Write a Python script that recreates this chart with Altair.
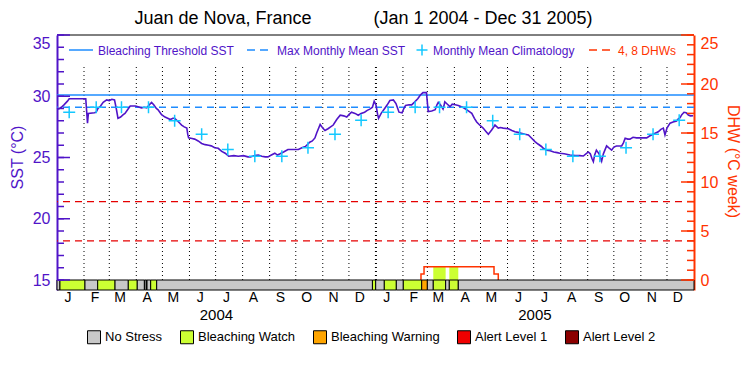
import altair as alt
import pandas as pd

FONT = "Liberation Sans"
PURPLE = "#5014c8"
BLUE = "#1e8cff"
CYAN = "#14c8ff"
ORANGE = "#ff3300"
RED = "#e60000"

W, H, BAR_PX = 637, 255, 10

# ---------------- data ----------------
MONTH_LETTERS = ["J", "F", "M", "A", "M", "J", "J", "A", "S", "O", "N", "D"]
DAYS_2004 = [31, 29, 31, 30, 31, 30, 31, 31, 30, 31, 30, 31]
DAYS_2005 = [31, 28, 31, 30, 31, 30, 31, 31, 30, 31, 30, 31]
YEARS = ["2004", "2005"]

SST_DAY = [0, 3, 5, 8, 12, 14, 33, 34, 35, 36, 43, 45, 47, 50, 53, 57, 60, 63, 66, 68,
           70, 73, 76, 78, 81, 84, 90, 93, 97, 100, 103, 106, 108.5, 111, 114, 116, 118, 120,
           124, 127, 130, 133, 135, 138, 141, 143, 146, 149, 150, 151, 155, 158, 162, 166,
           170, 174, 177, 181, 185, 189, 193, 197, 203, 208, 214, 219, 222, 226, 231, 235,
           239, 242, 246, 250, 253, 256, 260, 265, 270, 277, 281, 285, 288, 290, 293, 296,
           298, 302, 305, 307.5, 311, 314, 317, 321, 325, 329, 332.5, 335, 338, 342, 345.7,
           349, 353, 356, 359, 362, 364, 366, 368, 369, 372, 376, 379, 382, 386, 389, 391,
           392.5, 396, 398, 400, 404, 407, 410, 414, 417, 420, 424, 425, 426, 430, 434, 436,
           437.5, 440, 443, 444, 445, 448, 451, 453.5, 457, 460.5, 464, 468, 472, 476, 479,
           481.6, 485, 489, 492, 495, 498.8, 502.6, 506.4, 509, 512, 518, 522, 525.6, 529,
           533, 537, 541, 545, 548.5, 552, 556, 558, 562, 566, 570, 574, 577, 582, 588.7,
           595, 600, 604, 607, 609.7, 612, 614, 615.5, 617, 619, 622, 625, 627, 630.7, 633,
           636.5, 639, 642, 648, 650, 652, 655, 657.5, 661, 665, 670, 676.7, 680, 684, 687,
           690, 693, 695.8, 697.7, 700, 703.5, 707, 711, 713, 715, 717, 719.5, 722, 724.5,
           727, 730]
SST_VAL = [28.95, 29.0, 29.1, 29.3, 29.6, 29.8, 29.8, 28.8, 27.8, 28.6, 28.65, 28.7, 29.0,
           29.2, 29.5, 29.7, 29.65, 29.75, 29.7, 29.0,
           28.2, 28.3, 28.5, 28.6, 28.9, 29.2, 29.2, 29.15, 29.05, 29.1, 29.05, 29.3, 29.5,
           29.3, 29.0, 28.9, 28.7, 28.5,
           28.3, 28.2, 28.1, 28.2, 28.2, 28.0, 27.8, 27.65, 27.5, 27.4, 26.9, 26.6, 26.55,
           26.5, 26.35, 26.15,
           26.05, 26.0, 25.95, 25.8, 25.75, 25.5, 25.35, 25.1, 25.15, 25.1, 25.15, 25.05,
           25.05, 25.15, 25.2, 25.1,
           25.05, 25.05, 25.2, 25.35, 25.2, 25.3, 25.45, 25.65, 25.65, 25.65, 25.8, 25.9,
           26.1, 26.25, 26.35, 26.6,
           27.0, 27.7, 27.4, 27.2, 27.35, 27.5, 27.65, 28.1, 28.45, 28.4, 28.3, 28.5, 28.7,
           28.6, 28.45,
           28.6, 28.7, 28.85, 28.95, 29.1, 29.6, 29.3, 28.5, 28.2, 28.6, 29.0, 29.3, 29.65,
           29.7, 29.4, 29.0,
           28.7, 28.65, 29.0, 29.25, 29.3, 29.3, 29.5, 29.8, 30.1, 30.3, 30.3, 29.5, 28.75,
           28.8, 28.9, 29.3,
           29.5, 29.3, 28.95, 29.2, 29.55, 29.35, 29.15, 29.35, 29.3, 29.25, 29.15, 29.0,
           28.8, 28.6, 28.2,
           27.9, 27.65, 27.4, 27.15, 26.9, 27.25, 27.65, 27.4, 27.45, 27.4, 27.35, 27.2, 27.1,
           27.05,
           26.97, 26.9, 26.84, 26.55, 26.3, 26.1, 25.9, 25.75, 25.6, 25.55, 25.45, 25.4,
           25.35, 25.3, 25.2,
           25.15, 25.15, 25.12, 25.3, 25.45, 25.3, 24.9, 24.66, 25.2, 25.6, 25.3, 24.7, 25.3,
           25.95, 25.8,
           25.6, 25.85, 25.94, 25.94, 26.2, 26.57, 26.5, 26.5, 26.65, 26.6, 26.6, 26.6, 26.75,
           26.9, 27.0,
           27.1, 27.3, 27.4, 26.84, 27.4, 27.8, 27.9, 27.98, 28.15, 28.25, 28.5, 28.69, 28.65,
           28.47,
           28.4, 28.41]

CLIM = [28.7, 29.1, 29.1, 29.1, 28.0, 26.9, 25.65, 25.1, 25.1, 25.8, 26.9, 28.05]
MMM = 29.1
THRESHOLD = 30.1
DHW_LINES = [4, 8]

DHW_DAY = [417.6, 417.7, 421.2, 501.5, 506.4]
DHW_VAL = [0, 0.6, 1.36, 0.6, 0]
FILL_START = [431.8, 450.2]
FILL_END = [446.0, 460.5]
FILL_TOP = [1.36, 1.36]

STRESS_NAMES = ["No Stress", "Bleaching Watch", "Bleaching Warning", "Alert Level 1", "Alert Level 2"]
STRESS_COLORS = ["#c8c8c8", "#ccff33", "#ffa500", "#f00000", "#8c0000"]
STRESS_START = [0, 3.4, 32.1, 46.7, 66.6, 81.8, 92.1, 100.3, 100.9, 102.9, 103.3, 107.5, 114.4,
                362, 365.7, 375.6, 389.4, 397.4, 418.5, 425, 431.8, 446, 450.2, 460.5]
STRESS_END = [3.4, 32.1, 46.7, 66.6, 81.8, 92.1, 100.3, 100.9, 102.9, 103.3, 107.5, 114.4, 362,
              365.7, 375.6, 389.4, 397.4, 418.5, 425, 431.8, 446, 450.2, 460.5, 731]
STRESS_CAT = ["No Stress", "Bleaching Watch", "No Stress", "Bleaching Watch", "No Stress",
              "Bleaching Watch", "No Stress", "Bleaching Watch", "No Stress", "Bleaching Watch",
              "No Stress", "Bleaching Watch", "No Stress", "Bleaching Watch", "No Stress",
              "Bleaching Watch", "No Stress", "Bleaching Watch", "Bleaching Warning",
              "No Stress", "Bleaching Watch", "No Stress", "Bleaching Watch", "No Stress"]

# ---------------- derived ----------------
MONTH_LEN = DAYS_2004 + DAYS_2005
STARTS = [sum(MONTH_LEN[:i]) for i in range(len(MONTH_LEN))]
TOTAL = sum(MONTH_LEN)
YEAR_START = sum(DAYS_2004)
SST_MIN = 15

SST_LO = SST_MIN - 20 * BAR_PX / (H - BAR_PX)
DHW_LO = -25 * BAR_PX / (H - BAR_PX)

XS = alt.Scale(domain=[0, TOTAL], nice=False, zero=False)
YS = alt.Scale(domain=[SST_LO, 35], nice=False, zero=False)
YD = alt.Scale(domain=[DHW_LO, 25], nice=False, zero=False)

CROSS = "M-1,0L1,0M0,-1L0,1"
one = pd.DataFrame({"k": [0]})


def xq(field):
    return alt.X(field, scale=XS, axis=None)


def ys(field):
    return alt.Y(field, scale=YS, axis=None)


def yd(field):
    return alt.Y(field, scale=YD, axis=None)


def text(s, x, y, color="black", size=12, align="left"):
    return alt.Chart(one).mark_text(
        text=s, align=align, baseline="middle", font=FONT, fontSize=size, color=color
    ).encode(x=alt.value(x), y=alt.value(y))


sst_df = pd.DataFrame({"day": SST_DAY, "sst": SST_VAL})
clim_df = pd.DataFrame({"day": [s + 14 for s in STARTS], "c": [CLIM[i % 12] for i in range(24)]})
month_df = pd.DataFrame({"mid": [s + 12.5 for s in STARTS],
                         "m": [MONTH_LETTERS[i % 12] for i in range(24)]})
year_df = pd.DataFrame({"mid": [YEAR_START / 2, YEAR_START + (TOTAL - YEAR_START) / 2], "y": YEARS})
inner = [s for s in STARTS[1:] if s != YEAR_START]
bound_df = pd.DataFrame({"d": inner, "base": [SST_MIN] * len(inner)})
ybound_df = pd.DataFrame({"d": [YEAR_START], "base": [SST_MIN]})
bar_df = pd.DataFrame({"start": STRESS_START, "end": STRESS_END, "cat": STRESS_CAT,
                       "base": [SST_MIN] * len(STRESS_START)})
dhw_df = pd.DataFrame({"day": DHW_DAY, "dhw": DHW_VAL})
fill_df = pd.DataFrame({"start": FILL_START, "end": FILL_END, "top": FILL_TOP,
                        "zero": [0] * len(FILL_START)})

left_axis = alt.Axis(orient="left", values=[15, 20, 25, 30, 35], ticks=False, grid=False,
                     labelPadding=7, labelFont=FONT, labelFontSize=16, labelColor=PURPLE,
                     labelFlush=True, domainColor=PURPLE, domainWidth=2, title="SST (°C)",
                     titleFont=FONT, titleFontSize=16, titleFontWeight="normal",
                     titleColor=PURPLE, titleAngle=270, titleX=-40, titleY=122,
                     titleAlign="center", titleBaseline="middle")

right_axis = alt.Axis(orient="right", values=[0, 5, 10, 15, 20, 25], ticks=False, grid=False,
                      labelPadding=6, labelFont=FONT, labelFontSize=16, labelColor=ORANGE,
                      labelFlush=True, domainColor=ORANGE, domainWidth=2,
                      title="DHW (°C week)", titleFont=FONT, titleFontSize=16,
                      titleFontWeight="normal", titleColor=ORANGE, titleAngle=90,
                      titleX=38, titleY=126, titleAlign="center", titleBaseline="middle")

dots = alt.Chart(bound_df).mark_rule(color="black", strokeDash=[1, 3], strokeWidth=1).encode(
    x=xq("d:Q"), y=ys("base:Q"), y2=alt.value(30))
ydots = alt.Chart(ybound_df).mark_rule(color="black", strokeDash=[1, 3], strokeWidth=2).encode(
    x=xq("d:Q"), y=ys("base:Q"), y2=alt.value(30))

thr = alt.Chart(pd.DataFrame({"v": [THRESHOLD]})).mark_rule(color=BLUE, strokeWidth=1.5).encode(
    y=ys("v:Q"))
mmm = alt.Chart(pd.DataFrame({"v": [MMM]})).mark_rule(
    color=BLUE, strokeWidth=1.5, strokeDash=[7, 5]).encode(y=ys("v:Q"))

sst_line = alt.Chart(sst_df).mark_line(color=PURPLE, strokeWidth=1.6).encode(
    x=xq("day:Q"), y=alt.Y("sst:Q", scale=YS, axis=left_axis))

clim = alt.Chart(clim_df).mark_point(shape=CROSS, size=144, filled=False, color=CYAN,
                                     strokeWidth=1.5, opacity=1).encode(
    x=xq("day:Q"), y=ys("c:Q"))

bar = alt.Chart(bar_df).mark_rect(stroke="black", strokeWidth=1).encode(
    x=xq("start:Q"), x2="end:Q",
    y=ys("base:Q"), y2=alt.value(H),
    color=alt.Color("cat:N", scale=alt.Scale(domain=STRESS_NAMES, range=STRESS_COLORS),
                    legend=alt.Legend(orient="none", legendX=30, legendY=295,
                                      direction="horizontal", title=None, symbolType="square",
                                      symbolSize=169, symbolStrokeColor="black",
                                      symbolStrokeWidth=1, symbolOpacity=1, labelFont=FONT,
                                      labelFontSize=13, labelColor="black", columnPadding=15,
                                      labelOffset=4, padding=0)))

frame_top = alt.Chart(one).mark_rule(color="black", strokeWidth=1).encode(
    x=alt.value(0), x2=alt.value(W), y=alt.value(0))

tick_df = pd.DataFrame({"v": list(range(15, 36))})
maj_df = pd.DataFrame({"v": list(range(15, 36, 5))})
lt_minor = alt.Chart(tick_df).mark_rule(color=PURPLE, strokeWidth=1.5).encode(
    y=ys("v:Q"), x=alt.value(0), x2=alt.value(7))
lt_major = alt.Chart(maj_df).mark_rule(color=PURPLE, strokeWidth=1.5).encode(
    y=ys("v:Q"), x=alt.value(0), x2=alt.value(13))

months = alt.Chart(month_df).mark_text(font=FONT, fontSize=14, color="black",
                                       baseline="middle").encode(
    x=xq("mid:Q"), y=alt.value(263), text="m:N")
years = alt.Chart(year_df).mark_text(font=FONT, fontSize=15, color="black",
                                     baseline="middle").encode(
    x=xq("mid:Q"), y=alt.value(280), text="y:N")

legend_top = [
    alt.Chart(one).mark_rule(color=BLUE, strokeWidth=1.5).encode(
        x=alt.value(12), x2=alt.value(36), y=alt.value(15)),
    text("Bleaching Threshold SST", 41, 16, PURPLE, 12),
    alt.Chart(one).mark_rule(color=BLUE, strokeWidth=1.5, strokeDash=[8, 5]).encode(
        x=alt.value(190), x2=alt.value(214), y=alt.value(15)),
    text("Max Monthly Mean SST", 220, 16, PURPLE, 12),
    alt.Chart(one).mark_point(shape=CROSS, size=121, filled=False, color=CYAN,
                              strokeWidth=1.5, opacity=1).encode(x=alt.value(365), y=alt.value(15)),
    text("Monthly Mean Climatology", 376, 16, PURPLE, 12),
    alt.Chart(one).mark_rule(color=ORANGE, strokeWidth=1.5, strokeDash=[8, 5]).encode(
        x=alt.value(532), x2=alt.value(557), y=alt.value(15)),
    text("4, 8 DHWs", 561, 16, ORANGE, 12),
]

title1 = text("Juan de Nova, France", 166, -16, "black", 18, "center")
title2 = text("(Jan 1 2004 - Dec 31 2005)", 426, -16, "black", 18, "center")

dhw_lines = alt.Chart(pd.DataFrame({"v": DHW_LINES})).mark_rule(
    color=RED, strokeDash=[7, 5], strokeWidth=1.3).encode(y=alt.Y("v:Q", scale=YD, axis=right_axis))
fills = alt.Chart(fill_df).mark_rect(color=STRESS_COLORS[1]).encode(
    x=xq("start:Q"), x2="end:Q", y=yd("zero:Q"), y2="top:Q")
dhw_line = alt.Chart(dhw_df).mark_line(color=ORANGE, interpolate="step-after",
                                       strokeWidth=1.5).encode(
    x=xq("day:Q"), y=yd("dhw:Q"))
rt_df = pd.DataFrame({"v": list(range(0, 26))})
rmaj_df = pd.DataFrame({"v": list(range(0, 26, 5))})
rt_minor = alt.Chart(rt_df).mark_rule(color=ORANGE, strokeWidth=1.5).encode(
    y=yd("v:Q"), x=alt.value(W - 7), x2=alt.value(W))
rt_major = alt.Chart(rmaj_df).mark_rule(color=ORANGE, strokeWidth=1.5).encode(
    y=yd("v:Q"), x=alt.value(W - 13), x2=alt.value(W))

chart = alt.layer(
    dots, ydots, thr, mmm, dhw_lines, sst_line, clim, fills, dhw_line, bar, frame_top,
    lt_minor, lt_major, rt_minor, rt_major, months, years, title1, title2, *legend_top
).resolve_scale(y="independent").properties(
    width=W, height=H,
    padding={"left": 49, "top": 27, "right": 48, "bottom": 70},
    autosize=alt.AutoSizeParams(type="none"),
).configure_view(strokeWidth=0)

chart.save("out.html", embed_options={"renderer": "svg", "actions": False})
